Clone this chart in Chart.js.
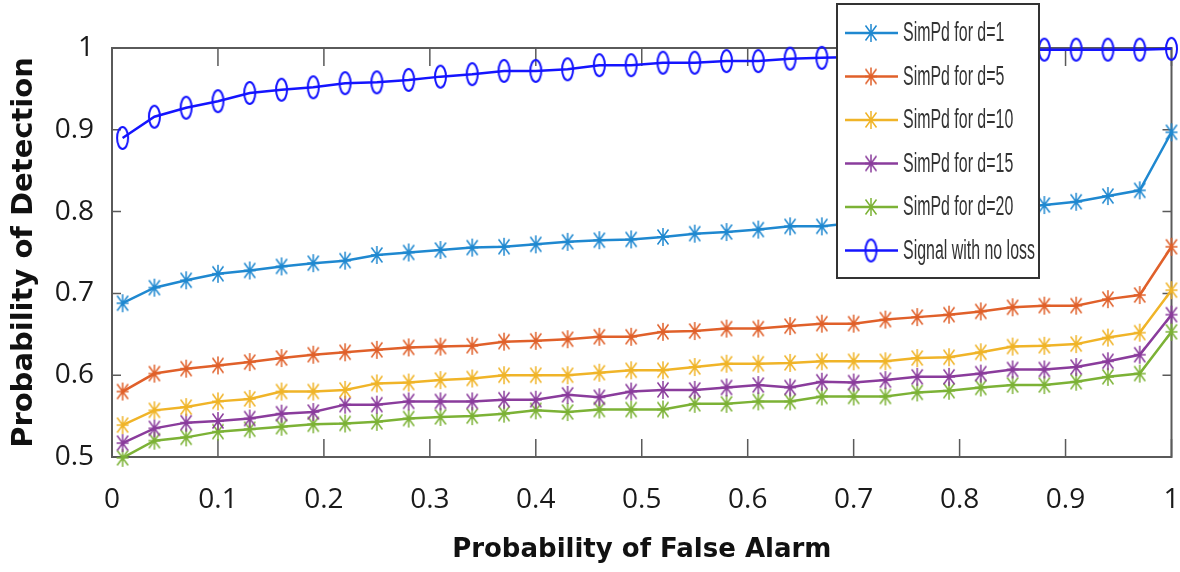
<!DOCTYPE html>
<html lang="en">
<head>
  <meta charset="UTF-8">
  <title>Probability of Detection vs False Alarm</title>
  <script src="https://cdn.jsdelivr.net/npm/chart.js"></script>
  <style>
    html, body { margin: 0; padding: 0; background: #fff; }
    .chart-box { width: 1180px; height: 572px; position: relative; }
  </style>
</head>
<body>
  <div class="chart-box">
    <canvas id="rocChart"></canvas>
  </div>
  <script>
    // Probability of false alarm (x axis)
    const pfa = [0.01, 0.04, 0.07, 0.10, 0.13, 0.16, 0.19, 0.22, 0.25, 0.28, 0.31, 0.34,
                 0.37, 0.40, 0.43, 0.46, 0.49, 0.52, 0.55, 0.58, 0.61, 0.64, 0.67, 0.70,
                 0.73, 0.76, 0.79, 0.82, 0.85, 0.88, 0.91, 0.94, 0.97, 1.00];

    // Probability of detection for each case
    const pdD1 = [0.688, 0.707, 0.716, 0.724, 0.728, 0.733, 0.737, 0.740, 0.747, 0.750, 0.753, 0.756,
                  0.757, 0.760, 0.763, 0.765, 0.766, 0.769, 0.773, 0.775, 0.778, 0.782, 0.782,
                  0.786, 0.789, 0.793, 0.797, 0.800, 0.804, 0.808, 0.812, 0.819, 0.826, 0.897];
    const pdD5 = [0.580, 0.602, 0.608, 0.612, 0.616, 0.621, 0.625, 0.628, 0.631, 0.634, 0.635, 0.636,
                  0.641, 0.642, 0.644, 0.647, 0.647, 0.653, 0.654, 0.657, 0.657, 0.660, 0.663,
                  0.663, 0.668, 0.671, 0.674, 0.678, 0.683, 0.685, 0.685, 0.693, 0.698, 0.757];
    const pdD10 = [0.539, 0.557, 0.561, 0.568, 0.571, 0.580, 0.580, 0.582, 0.590, 0.591, 0.594, 0.596,
                   0.600, 0.600, 0.600, 0.603, 0.606, 0.606, 0.610, 0.614, 0.614, 0.615, 0.617,
                   0.617, 0.617, 0.621, 0.622, 0.628, 0.635, 0.636, 0.638, 0.646, 0.652, 0.704];
    const pdD15 = [0.517, 0.535, 0.542, 0.544, 0.547, 0.553, 0.555, 0.564, 0.564, 0.568, 0.568, 0.568,
                   0.570, 0.570, 0.576, 0.573, 0.580, 0.582, 0.582, 0.585, 0.588, 0.585, 0.592,
                   0.591, 0.594, 0.598, 0.598, 0.602, 0.607, 0.607, 0.610, 0.617, 0.625, 0.674];
    const pdD20 = [0.499, 0.520, 0.524, 0.531, 0.534, 0.537, 0.540, 0.541, 0.543, 0.547, 0.549, 0.550,
                   0.553, 0.557, 0.555, 0.558, 0.558, 0.558, 0.565, 0.565, 0.568, 0.568, 0.574,
                   0.574, 0.574, 0.579, 0.581, 0.585, 0.588, 0.588, 0.592, 0.598, 0.602, 0.653];
    const pdNoLoss = [0.890, 0.916, 0.927, 0.935, 0.945, 0.949, 0.952, 0.957, 0.958, 0.961, 0.965, 0.968,
                      0.972, 0.972, 0.974, 0.979, 0.979, 0.982, 0.982, 0.984, 0.984, 0.987, 0.988,
                      0.989, 0.991, 0.993, 0.995, 0.997, 0.998, 0.998, 0.998, 0.998, 0.998, 0.999];

    const seriesLabels = ['SimPd for d=1', 'SimPd for d=5', 'SimPd for d=10',
                          'SimPd for d=15', 'SimPd for d=20', 'Signal with no loss'];
    const seriesColors = ['#1f88d0', '#e0602a', '#f0b428', '#8a3c9c', '#7cb236', '#1414ff'];

    // MATLAB-like '*' marker (a bit taller than wide, as in the picture)
    function asteriskMarker(color) {
      const c = document.createElement('canvas');
      const w = 14, h = 20;
      c.width = w; c.height = h;
      const g = c.getContext('2d');
      g.strokeStyle = color;
      g.lineWidth = 1.5;
      g.beginPath();
      g.moveTo(w / 2, 1); g.lineTo(w / 2, h - 1);
      g.moveTo(1, h / 2); g.lineTo(w - 1, h / 2);
      g.moveTo(1.5, 2.5); g.lineTo(w - 1.5, h - 2.5);
      g.moveTo(w - 1.5, 2.5); g.lineTo(1.5, h - 2.5);
      g.stroke();
      return c;
    }

    // 'o' marker, stretched into an ellipse
    function ellipseMarker(color) {
      const c = document.createElement('canvas');
      const w = 15, h = 26;
      c.width = w; c.height = h;
      const g = c.getContext('2d');
      g.strokeStyle = color;
      g.lineWidth = 2;
      g.beginPath();
      g.ellipse(w / 2, h / 2, 5.5, 11, 0, 0, Math.PI * 2);
      g.stroke();
      return c;
    }

    const allSeries = [pdD1, pdD5, pdD10, pdD15, pdD20, pdNoLoss];
    const datasets = allSeries.map((vals, i) => ({
      label: seriesLabels[i],
      data: vals.map((v, j) => ({ x: pfa[j], y: v })),
      borderColor: seriesColors[i],
      backgroundColor: seriesColors[i],
      borderWidth: 2.5,
      pointStyle: i === 5 ? ellipseMarker(seriesColors[i]) : asteriskMarker(seriesColors[i]),
      pointRadius: 6,
      tension: 0,
      clip: false
    }));

    // 0, 0.1, ... 1 (no trailing ".0")
    const tickText = v => String(Number(v.toFixed(1)));

    // box around the axes with inward tick marks on all four sides
    const axesBox = {
      id: 'axesBox',
      beforeDatasetsDraw(chart) {
        const { ctx, chartArea: a, scales } = chart;
        ctx.save();
        ctx.strokeStyle = '#5a5a5a';
        ctx.lineWidth = 2;
        ctx.strokeRect(a.left, a.top, a.right - a.left, a.bottom - a.top);
        ctx.lineWidth = 1.5;
        ctx.beginPath();
        scales.x.ticks.forEach(t => {
          const px = scales.x.getPixelForValue(t.value);
          ctx.moveTo(px, a.bottom); ctx.lineTo(px, a.bottom - 18);
          ctx.moveTo(px, a.top); ctx.lineTo(px, a.top + 18);
        });
        scales.y.ticks.forEach(t => {
          const py = scales.y.getPixelForValue(t.value);
          ctx.moveTo(a.left, py); ctx.lineTo(a.left + 9, py);
          ctx.moveTo(a.right, py); ctx.lineTo(a.right - 9, py);
        });
        ctx.stroke();
        ctx.restore();
      }
    };

    // legend box in the upper right, drawn over the plot like in MATLAB
    const boxLegend = {
      id: 'boxLegend',
      afterDraw(chart) {
        const ctx = chart.ctx;
        const bx = 837, by = 4, bw = 202, bh = 274;
        ctx.save();
        ctx.fillStyle = '#fff';
        ctx.fillRect(bx, by, bw, bh);
        ctx.strokeStyle = '#333';
        ctx.lineWidth = 2;
        ctx.strokeRect(bx, by, bw, bh);
        chart.data.datasets.forEach((ds, i) => {
          const y = 33 + i * 43.5;
          ctx.strokeStyle = ds.borderColor;
          ctx.lineWidth = 2.5;
          ctx.beginPath();
          ctx.moveTo(845, y); ctx.lineTo(898, y);
          ctx.stroke();
          const img = ds.pointStyle;
          ctx.drawImage(img, 871 - img.width / 2, y - img.height / 2);
          ctx.save();
          ctx.translate(903, y);
          ctx.scale(0.59, 1);
          ctx.fillStyle = '#333';
          ctx.font = '27px "Liberation Sans", Arial, sans-serif';
          ctx.textBaseline = 'middle';
          ctx.fillText(ds.label, 0, 1);
          ctx.restore();
        });
        ctx.restore();
      }
    };

    new Chart(document.getElementById('rocChart').getContext('2d'), {
      type: 'line',
      data: { datasets: datasets },
      options: {
        responsive: true,
        maintainAspectRatio: false,
        animation: false,
        layout: { padding: { top: 48, right: 8, left: 0, bottom: 0 } },
        plugins: {
          legend: { display: false },
          tooltip: { enabled: false }
        },
        scales: {
          x: {
            type: 'linear',
            min: 0,
            max: 1,
            afterFit: s => { s.height = 115; s.paddingLeft = 0; s.paddingRight = 0; },
            grid: { display: false },
            border: { display: false },
            ticks: {
              stepSize: 0.1,
              padding: 18,
              color: '#1a1a1a',
              font: { family: '"Open Sans", sans-serif', size: 28 },
              callback: tickText
            },
            title: {
              display: true,
              text: 'Probability of False Alarm',
              color: '#111',
              font: { family: '"DejaVu Sans", sans-serif', size: 26, weight: 'bold' },
              padding: { top: 0, bottom: 6 }
            }
          },
          y: {
            min: 0.5,
            max: 1,
            afterFit: s => { s.width = 112; },
            grid: { display: false },
            border: { display: false },
            ticks: {
              stepSize: 0.1,
              padding: 10,
              color: '#1a1a1a',
              font: { family: '"Open Sans", sans-serif', size: 28 },
              callback: tickText
            },
            title: {
              display: true,
              text: 'Probability of Detection',
              color: '#111',
              font: { family: '"DejaVu Sans", sans-serif', size: 29, weight: 'bold' },
              padding: { top: 7, bottom: 0 }
            }
          }
        }
      },
      plugins: [axesBox, boxLegend]
    });
  </script>
</body>
</html>
